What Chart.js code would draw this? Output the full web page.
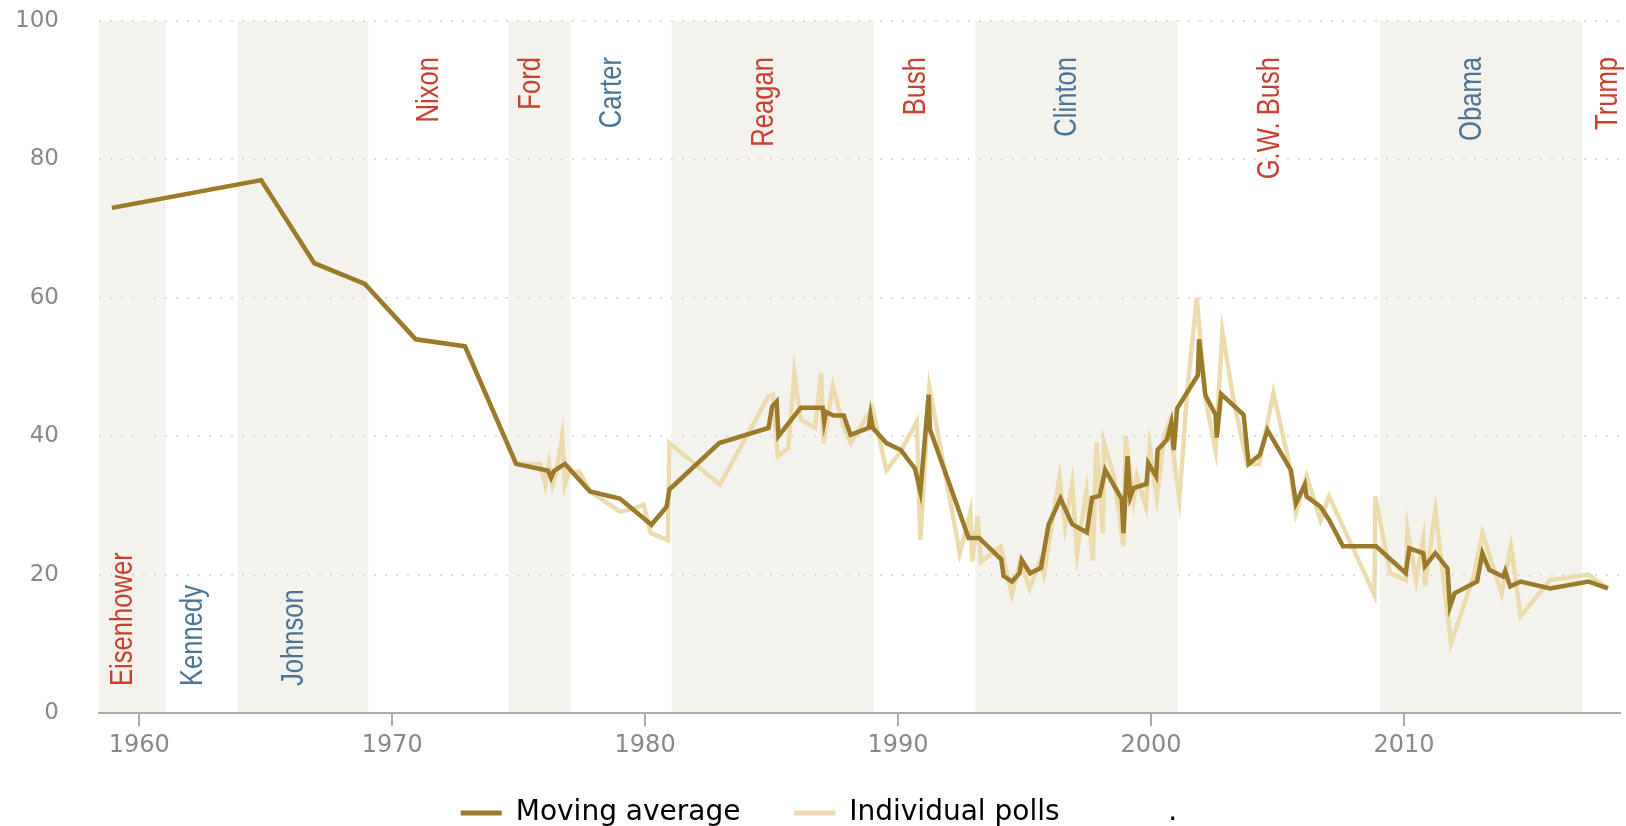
<!DOCTYPE html>
<html>
<head>
<meta charset="utf-8">
<script src="https://cdn.jsdelivr.net/npm/chart.js@4.4.0/dist/chart.umd.min.js"></script>
<style>
  html, body { margin: 0; padding: 0; background: #fff; overflow: hidden; }
  #wrap { position: relative; width: 1626px; height: 837px; }
</style>
</head>
<body>
<div id="wrap"><canvas id="trustChart"></canvas></div>
<script>
// moving average of trust in government
const avgYears = [1958.92, 1964.82, 1966.92, 1968.92, 1970.93, 1972.88, 1974.9, 1976.17, 1976.28, 1976.4,
  1976.83, 1977.82, 1979.0, 1980.25, 1980.85, 1980.96, 1982.93, 1984.88, 1985.02, 1985.2,
  1985.27, 1986.15, 1987.02, 1987.08, 1987.15, 1987.45, 1987.85, 1988.12, 1988.84, 1988.91,
  1989.0, 1989.54, 1990.11, 1990.67, 1990.88, 1991.21, 1991.26, 1992.79, 1993.2, 1994.08,
  1994.17, 1994.5, 1994.8, 1994.89, 1995.22, 1995.65, 1995.95, 1996.42, 1996.88, 1997.46,
  1997.67, 1997.97, 1998.19, 1998.84, 1998.91, 1999.07, 1999.18, 1999.31, 1999.82, 1999.89,
  2000.2, 2000.26, 2000.63, 2000.8, 2000.9, 2001.03, 2001.85, 2001.9, 2002.15, 2002.55,
  2002.6, 2002.77, 2003.66, 2003.86, 2004.3, 2004.6, 2005.53, 2005.73, 2006.08, 2006.15,
  2006.7, 2007.04, 2007.59, 2008.9, 2010.07, 2010.21, 2010.76, 2010.83, 2011.24, 2011.72,
  2011.82, 2012.0, 2012.89, 2013.1, 2013.37, 2013.92, 2014.0, 2014.2, 2014.61, 2015.78,
  2017.3, 2018.06];
const avgValues = [73, 77, 65, 62, 54, 53, 36, 35, 34, 35,
  36, 32, 31, 27.2, 29.8, 32.3, 39, 41.2, 44.3, 45,
  40, 44.1, 44.1, 42.1, 43.5, 43, 43, 40.2, 41.2, 43.1,
  41.2, 39, 38, 35.3, 32, 46, 41, 25.3, 25.3, 22.2,
  19.8, 19, 20.2, 22.1, 20.2, 21, 27.2, 31, 27.3, 26.1,
  31.1, 31.4, 35.1, 30.9, 26, 37.1, 31.2, 32.5, 33.1, 36.1,
  34.2, 38, 39.5, 41.9, 38, 44, 48.8, 54, 45.9, 43.1,
  39.8, 46.1, 43.1, 36, 37.3, 40.9, 35.1, 30.3, 33, 31.3,
  29.8, 27.9, 24.1, 24.1, 20.2, 23.8, 23.1, 21.2, 23.1, 20.9,
  15.4, 17.3, 19, 23.1, 20.7, 19.7, 20.5, 18.3, 19, 18,
  19, 18];

// individual polls
const pollYears = [1958.92, 1964.82, 1966.92, 1968.92, 1970.93, 1972.88, 1974.9, 1975.85, 1976.05, 1976.2,
  1976.34, 1976.5, 1976.72, 1976.83, 1976.97, 1977.4, 1977.82, 1979.0, 1979.5, 1979.94,
  1980.22, 1980.9, 1980.96, 1982.96, 1984.88, 1985.05, 1985.24, 1985.66, 1985.9, 1986.15,
  1986.72, 1986.96, 1987.05, 1987.42, 1987.85, 1988.13, 1988.98, 1989.54, 1990.11, 1990.74,
  1990.88, 1991.24, 1992.44, 1992.86, 1992.93, 1993.14, 1993.28, 1994.05, 1994.5, 1994.83,
  1995.2, 1995.6, 1995.76, 1996.38, 1996.6, 1996.88, 1997.08, 1997.45, 1997.7, 1997.84,
  1998.1, 1998.14, 1998.54, 1998.91, 1999.0, 1999.31, 1999.44, 1999.8, 1999.95, 2000.23,
  2000.52, 2000.72, 2001.12, 2001.43, 2001.81, 2002.15, 2002.55, 2002.82, 2003.25, 2003.8,
  2004.27, 2004.84, 2005.46, 2005.73, 2006.15, 2006.7, 2007.04, 2008.83, 2008.87, 2009.45,
  2010.07, 2010.14, 2010.48, 2010.76, 2010.83, 2011.24, 2011.86, 2012.75, 2013.1, 2013.86,
  2014.23, 2014.61, 2015.78, 2017.3, 2018.06];
const pollValues = [73, 77, 65, 62, 54, 53, 36, 36, 33, 36,
  33, 35, 40, 33, 34.7, 34.9, 32, 29.1, 29.5, 30.1,
  26, 25, 39, 33, 45.8, 46, 37.1, 38.3, 49.1, 42.4,
  41.2, 49.1, 39, 47.2, 41.4, 39, 44.1, 35.1, 37.8, 42.1,
  25, 47, 23.1, 29.1, 21.9, 28.4, 21.9, 24, 17.1, 22,
  18, 21.9, 20, 34.1, 27, 33.1, 23.1, 32.2, 22, 39.1,
  26, 39.1, 34, 24.1, 40, 30.8, 34.2, 29.8, 38.3, 31.2,
  40, 42, 30.9, 46.5, 60, 45.3, 38, 55.1, 45.5, 36,
  36, 46.2, 36.1, 28.9, 34.2, 27.9, 31.3, 17.1, 31.3, 20.2,
  19.2, 26.5, 19.2, 25, 18.3, 29.3, 10.1, 19.7, 26, 17.3,
  24.1, 14, 19.2, 20, 18];

// presidents and when each term began
const presidents = ['Eisenhower', 'Kennedy', 'Johnson', 'Nixon', 'Ford', 'Carter', 'Reagan', 'Bush',
  'Clinton', 'G.W. Bush', 'Obama', 'Trump'];
const parties = ['R', 'D', 'D', 'R', 'R', 'D', 'R', 'R', 'D', 'R', 'D', 'R'];
const termStarts = [1953.05, 1961.05, 1963.89, 1969.05, 1974.6, 1977.05, 1981.05, 1989.05,
  1993.05, 2001.05, 2009.05, 2017.05];

const seriesLabels = ['Moving average', 'Individual polls', '.'];

const toPoints = (xs, ys) => xs.map((x, i) => ({x: x, y: ys[i]}));

const lowLabels = ['Eisenhower', 'Kennedy', 'Johnson'];

const presidentPlugin = {
  id: 'presidents',
  beforeDraw(chart) {
    const {ctx, chartArea, scales} = chart;
    const xs = scales.x;
    ctx.save();
    ctx.fillStyle = '#f3f2ed';
    termStarts.forEach((start, i) => {
      if (i % 2 !== 0) return;
      const end = i + 1 < termStarts.length ? termStarts[i + 1] : start + 4;
      const x0 = xs.getPixelForValue(Math.max(start, xs.min));
      const x1 = xs.getPixelForValue(Math.min(end, xs.max));
      ctx.fillRect(x0, chartArea.top, x1 - x0, chartArea.bottom - chartArea.top);
    });
    ctx.restore();
  },
  beforeDatasetsDraw(chart) {
    const {ctx, chartArea, scales} = chart;
    const xs = scales.x;
    termStarts.forEach((start, i) => {
      const end = i + 1 < termStarts.length ? termStarts[i + 1] : start + 4;
      const mid = (Math.max(start, xs.min) + end) / 2;
      const x = Math.min(xs.getPixelForValue(mid), chartArea.right - 3);
      const low = lowLabels.includes(presidents[i]);
      ctx.save();
      ctx.font = '32px "Liberation Sans", Arial, sans-serif';
      ctx.fillStyle = parties[i] === 'R' ? '#c8412f' : '#4c7494';
      ctx.translate(x, low ? chartArea.bottom - 27 : chartArea.top + 36);
      ctx.rotate(-Math.PI / 2);
      ctx.scale(0.8, 1);
      ctx.textAlign = low ? 'left' : 'right';
      ctx.textBaseline = 'alphabetic';
      ctx.fillText(presidents[i], 0, 0);
      ctx.restore();
    });
  }
};

new Chart(document.getElementById('trustChart'), {
  type: 'line',
  data: {
    datasets: [{
      label: seriesLabels[0],
      data: toPoints(avgYears, avgValues),
      borderColor: '#9c7a2c',
      backgroundColor: '#9c7a2c',
      borderWidth: 4.5,
      pointRadius: 0,
      tension: 0
    }, {
      label: seriesLabels[1],
      data: toPoints(pollYears, pollValues),
      borderColor: '#ecdcad',
      backgroundColor: '#ecdcad',
      borderWidth: 4.5,
      pointRadius: 0,
      tension: 0
    }, {
      label: seriesLabels[2],
      data: [],
      borderColor: 'rgba(0,0,0,0)',
      backgroundColor: 'rgba(0,0,0,0)'
    }]
  },
  options: {
    responsive: true,
    maintainAspectRatio: false,
    animation: false,
    layout: { padding: { top: 21, right: 6, bottom: 0, left: 18 } },
    scales: {
      x: {
        type: 'linear',
        min: 1958.41,
        max: 2018.54,
        afterFit(scale) { scale.height = 50; },
        grid: { drawOnChartArea: false, drawTicks: true, tickLength: 13, color: '#aaa', lineWidth: 2 },
        border: { display: true, color: '#aaa', width: 2 },
        ticks: {
          stepSize: 10,
          includeBounds: false,
          padding: 5,
          color: '#888',
          font: { family: 'DejaVu Sans', size: 24 },
          callback: v => String(v)
        }
      },
      y: {
        min: 0,
        max: 100,
        afterFit(scale) { scale.width = 81; },
        grid: { color: '#dcdcdc', lineWidth: 2, drawTicks: true, tickLength: 40, tickColor: 'rgba(0,0,0,0)' },
        border: { display: false, dash: [2, 9] },
        ticks: {
          stepSize: 20,
          padding: 0,
          color: '#888',
          font: { family: 'DejaVu Sans', size: 23 }
        }
      }
    },
    plugins: {
      legend: {
        position: 'bottom',
        labels: {
          font: { family: 'DejaVu Sans', size: 28 },
          color: '#444',
          boxWidth: 41,
          boxHeight: 5,
          padding: 36,
          generateLabels(chart) {
            const sets = chart.data.datasets;
            return sets.map((ds, i) => ({
              // two trailing spaces widen the gap between legend entries
              text: i < sets.length - 1 ? ds.label + '  ' : ds.label,
              fillStyle: ds.borderColor,
              strokeStyle: ds.borderColor,
              lineWidth: 0,
              hidden: false,
              datasetIndex: i
            }));
          }
        }
      },
      tooltip: { enabled: false }
    }
  },
  plugins: [presidentPlugin]
});
</script>
</body>
</html>
